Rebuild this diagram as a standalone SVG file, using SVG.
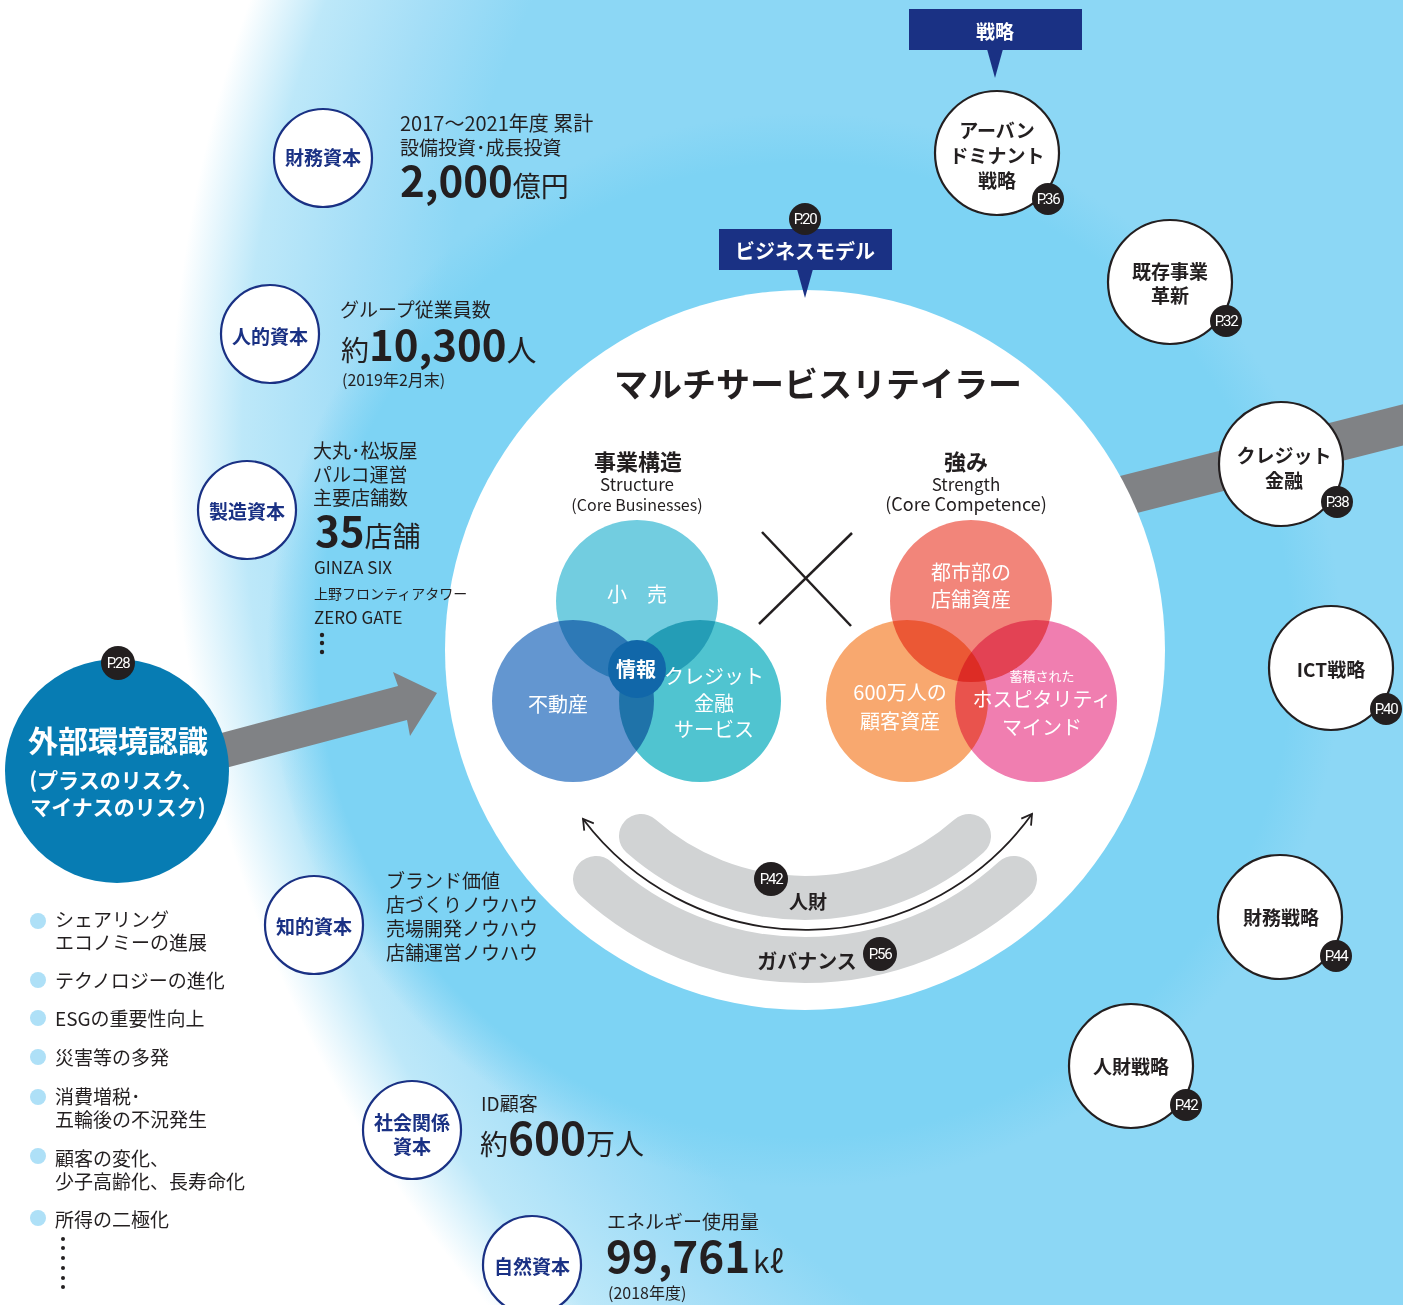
<svg xmlns="http://www.w3.org/2000/svg" width="1403" height="1305" viewBox="0 0 1403 1305">
<defs>
<radialGradient id="bgOuter" gradientUnits="userSpaceOnUse" cx="1480" cy="450" r="1310">
<stop offset="0" stop-color="#8cd7f5"/>
<stop offset="0.80" stop-color="#8cd7f5"/>
<stop offset="0.87" stop-color="#a4def7"/>
<stop offset="0.945" stop-color="#bde8f9"/>
<stop offset="1" stop-color="#ffffff"/>
</radialGradient>
<radialGradient id="bgRing" gradientUnits="userSpaceOnUse" cx="805" cy="650" r="560">
<stop offset="0" stop-color="#7dd3f4"/>
<stop offset="0.87" stop-color="#7dd3f4"/>
<stop offset="0.96" stop-color="#7dd3f4" stop-opacity="0"/>
</radialGradient>
<marker id="chev" markerUnits="userSpaceOnUse" markerWidth="14" markerHeight="14" refX="11" refY="6" orient="auto-start-reverse" viewBox="0 0 14 12">
<path d="M1,0 L11,6 L1,12" fill="none" stroke="#231f20" stroke-width="1.8"/>
</marker>
<style>
text{font-family:"Noto Sans CJK JP","Noto Sans",sans-serif;}
.cap{fill:#fff;stroke:#1a3184;stroke-width:2.2;}
.capt{fill:#1a3184;font-weight:700;font-size:19px;text-anchor:middle;}
.strat{fill:#fff;stroke:#231f20;stroke-width:2.2;}
.st{fill:#231f20;font-weight:700;font-size:19px;text-anchor:middle;}
.badge{fill:#231f20;}
.bt{fill:#fff;font-size:15px;letter-spacing:-1.3px;text-anchor:middle;font-family:"Roboto","Noto Sans",sans-serif;}
.tx{fill:#231f20;font-size:19px;}
.big{fill:#231f20;font-weight:700;font-size:42px;}
.wt{fill:#fff;font-size:20px;text-anchor:middle;}
.vn{mix-blend-mode:multiply;}
.bul{fill:#aee0f7;}
.lt{fill:#231f20;font-size:19px;}
</style>
</defs>

<g id="background">
<rect width="1403" height="1305" fill="#fff"/>
<circle cx="1480" cy="450" r="1310" fill="url(#bgOuter)"/>
<circle cx="805" cy="650" r="560" fill="url(#bgRing)"/>
</g>

<g id="connectors">
<line x1="1040" y1="517" x2="1410" y2="423" stroke="#808285" stroke-width="40"/>
<polygon points="150,788 150,752 398,686 393,672 437,693 410,736 407,720" fill="#808285"/>
</g>

<g id="main-circle">
<circle cx="805" cy="650" r="360" fill="#fff"/>
<text x="818" y="397" font-size="34" font-weight="700" fill="#231f20" text-anchor="middle">マルチサービスリテイラー</text>
</g>

<g id="business-model">
<rect x="719" y="229" width="173" height="41" fill="#1a3184"/>
<polygon points="797,269 813,269 805,298" fill="#1a3184"/>
<text x="805" y="259" font-size="20" font-weight="700" fill="#fff" text-anchor="middle">ビジネスモデル</text>
<circle class="badge" cx="805" cy="219" r="16"/>
<text class="bt" x="805" y="224">P.20</text>
</g>

<g id="structure">
<text x="638" y="470" font-size="22" font-weight="700" fill="#231f20" text-anchor="middle">事業構造</text>
<text x="637" y="491" font-size="17" fill="#231f20" text-anchor="middle">Structure</text>
<text x="637" y="511" font-size="16" fill="#231f20" text-anchor="middle">(Core Businesses)</text>
<circle class="vn" cx="637" cy="601" r="81" fill="#72cde0"/>
<circle class="vn" cx="573" cy="701" r="81" fill="#6396d0"/>
<circle class="vn" cx="700" cy="701" r="81" fill="#50c4d0"/>
<circle cx="637" cy="669" r="29" fill="#1167a9"/>
<text class="wt" x="637" y="602">小　売</text>
<text class="wt" x="558" y="712">不動産</text>
<text class="wt" x="714" y="684">クレジット</text>
<text class="wt" x="714" y="711">金融</text>
<text class="wt" x="714" y="737">サービス</text>
<text class="wt" x="636" y="677" font-weight="700">情報</text>
</g>

<g id="cross">
<line x1="762" y1="532" x2="851" y2="626" stroke="#231f20" stroke-width="2.5"/>
<line x1="852" y1="533" x2="759" y2="624" stroke="#231f20" stroke-width="2.5"/>
</g>

<g id="strength">
<text x="966" y="470" font-size="22" font-weight="700" fill="#231f20" text-anchor="middle">強み</text>
<text x="966" y="491" font-size="17" fill="#231f20" text-anchor="middle">Strength</text>
<text x="966" y="511" font-size="18" fill="#231f20" text-anchor="middle">(Core Competence)</text>
<circle class="vn" cx="971" cy="601" r="81" fill="#f2857a"/>
<circle class="vn" cx="907" cy="701" r="81" fill="#f8a86f"/>
<circle class="vn" cx="1036" cy="701" r="81" fill="#f07eb0"/>
<text class="wt" x="971" y="580">都市部の</text>
<text class="wt" x="971" y="607">店舗資産</text>
<text class="wt" x="900" y="700">600万人の</text>
<text class="wt" x="900" y="729">顧客資産</text>
<text class="wt" x="1042" y="681" style="font-size:13px">蓄積された</text>
<text class="wt" x="1042" y="707">ホスピタリティ</text>
<text class="wt" x="1042" y="735">マインド</text>
</g>

<g id="smile">
<path d="M 641 836 A 248 248 0 0 0 969 836" fill="none" stroke="#d1d3d4" stroke-width="44" stroke-linecap="round"/>
<path d="M 596 879 A 310 310 0 0 0 1014 879" fill="none" stroke="#d1d3d4" stroke-width="46" stroke-linecap="round"/>
<path d="M 583 819 A 279 279 0 0 0 1032 814" fill="none" stroke="#231f20" stroke-width="1.8" marker-start="url(#chev)" marker-end="url(#chev)"/>
</g>

<g id="jinzai">
<circle class="badge" cx="771" cy="879" r="17"/>
<text class="bt" x="771" y="884">P.42</text>
<text x="808" y="909" font-size="19" font-weight="700" fill="#231f20" text-anchor="middle">人財</text>
</g>

<g id="governance">
<text x="807" y="969" font-size="20" font-weight="700" fill="#231f20" text-anchor="middle">ガバナンス</text>
<circle class="badge" cx="880" cy="954" r="17"/>
<text class="bt" x="880" y="959">P.56</text>
</g>

<g id="senryaku">
<rect x="909" y="9" width="173" height="41" fill="#1a3184"/>
<polygon points="987,49 1003,49 995,78" fill="#1a3184"/>
<text x="995" y="39" font-size="19" font-weight="700" fill="#fff" text-anchor="middle">戦略</text>
</g>

<g id="urban">
<circle class="strat" cx="997" cy="153" r="62"/>
<text class="st" x="997" y="138">アーバン</text>
<text class="st" x="997" y="163">ドミナント</text>
<text class="st" x="997" y="188">戦略</text>
<circle class="badge" cx="1048" cy="199" r="16"/>
<text class="bt" x="1048" y="204">P.36</text>
</g>

<g id="kizon">
<circle class="strat" cx="1170" cy="282" r="62"/>
<text class="st" x="1170" y="279">既存事業</text>
<text class="st" x="1170" y="303">革新</text>
<circle class="badge" cx="1226" cy="321" r="16"/>
<text class="bt" x="1226" y="326">P.32</text>
</g>

<g id="credit">
<circle class="strat" cx="1281" cy="464" r="62"/>
<text class="st" x="1284" y="463">クレジット</text>
<text class="st" x="1284" y="488">金融</text>
<circle class="badge" cx="1337" cy="502" r="16"/>
<text class="bt" x="1337" y="507">P.38</text>
</g>

<g id="ict">
<circle class="strat" cx="1331" cy="668" r="62"/>
<text class="st" x="1331" y="677">ICT戦略</text>
<circle class="badge" cx="1386" cy="709" r="16"/>
<text class="bt" x="1386" y="714">P.40</text>
</g>

<g id="zaimu-senryaku">
<circle class="strat" cx="1280" cy="917" r="62"/>
<text class="st" x="1281" y="925">財務戦略</text>
<circle class="badge" cx="1336" cy="956" r="16"/>
<text class="bt" x="1336" y="961">P.44</text>
</g>

<g id="jinzai-senryaku">
<circle class="strat" cx="1131" cy="1066" r="62"/>
<text class="st" x="1131" y="1074">人財戦略</text>
<circle class="badge" cx="1186" cy="1105" r="16"/>
<text class="bt" x="1186" y="1110">P.42</text>
</g>

<g id="zaimu-shihon">
<circle class="cap" cx="323" cy="158" r="49"/>
<text class="capt" x="323" y="165">財務資本</text>
<text class="tx" x="400" y="131" style="font-size:20px">2017〜2021年度 累計</text>
<text class="tx" x="400" y="155">設備投資･成長投資</text>
<text x="400" y="197"><tspan class="big">2,000</tspan><tspan class="tx" style="font-size:28px">億円</tspan></text>
</g>

<g id="jinteki-shihon">
<circle class="cap" cx="270" cy="334" r="49"/>
<text class="capt" x="270" y="344">人的資本</text>
<text class="tx" x="340" y="317">グループ従業員数</text>
<text x="341" y="361"><tspan class="tx" style="font-size:28px">約</tspan><tspan class="big">10,300</tspan><tspan class="tx" style="font-size:30px">人</tspan></text>
<text class="tx" x="342" y="386" style="font-size:16px">(2019年2月末)</text>
</g>

<g id="seizo-shihon">
<circle class="cap" cx="247" cy="510" r="49"/>
<text class="capt" x="247" y="519">製造資本</text>
<text class="tx" x="313" y="458">大丸･松坂屋</text>
<text class="tx" x="313" y="482">パルコ運営</text>
<text class="tx" x="313" y="505">主要店舗数</text>
<text x="315" y="547"><tspan class="big">35</tspan><tspan class="tx" style="font-size:28px">店舗</tspan></text>
<text class="tx" x="314" y="574" style="font-size:17px">GINZA SIX</text>
<text class="tx" x="314" y="599" style="font-size:14px">上野フロンティアタワー</text>
<text class="tx" x="314" y="624" style="font-size:17px">ZERO GATE</text>
<circle cx="322" cy="635" r="2.2" fill="#231f20"/>
<circle cx="322" cy="643" r="2.2" fill="#231f20"/>
<circle cx="322" cy="652" r="2.2" fill="#231f20"/>
</g>

<g id="gaibu">
<circle cx="117" cy="771" r="112" fill="#077cb3"/>
<circle class="badge" cx="118" cy="663" r="17"/>
<text class="bt" x="118" y="668">P.28</text>
<text x="118" y="752" font-size="30" font-weight="700" fill="#fff" text-anchor="middle">外部環境認識</text>
<text x="116" y="788" font-size="21" font-weight="700" fill="#fff" text-anchor="middle">(プラスのリスク、</text>
<text x="118" y="815" font-size="21" font-weight="700" fill="#fff" text-anchor="middle">マイナスのリスク)</text>
</g>

<g id="risk-list">
<circle class="bul" cx="38" cy="921" r="8"/>
<text class="lt" x="55" y="927">シェアリング</text>
<text class="lt" x="55" y="950">エコノミーの進展</text>
<circle class="bul" cx="38" cy="980" r="8"/>
<text class="lt" x="55" y="988">テクノロジーの進化</text>
<circle class="bul" cx="38" cy="1018" r="8"/>
<text class="lt" x="55" y="1026">ESGの重要性向上</text>
<circle class="bul" cx="38" cy="1057" r="8"/>
<text class="lt" x="55" y="1065">災害等の多発</text>
<circle class="bul" cx="38" cy="1097" r="8"/>
<text class="lt" x="55" y="1104">消費増税･</text>
<text class="lt" x="55" y="1127">五輪後の不況発生</text>
<circle class="bul" cx="38" cy="1156" r="8"/>
<text class="lt" x="55" y="1166">顧客の変化、</text>
<text class="lt" x="55" y="1189">少子高齢化、長寿命化</text>
<circle class="bul" cx="38" cy="1218" r="8"/>
<text class="lt" x="55" y="1227">所得の二極化</text>
<circle cx="63" cy="1239" r="2" fill="#231f20"/>
<circle cx="63" cy="1248" r="2" fill="#231f20"/>
<circle cx="63" cy="1258" r="2" fill="#231f20"/>
<circle cx="63" cy="1268" r="2" fill="#231f20"/>
<circle cx="63" cy="1278" r="2" fill="#231f20"/>
<circle cx="63" cy="1287" r="2" fill="#231f20"/>
</g>

<g id="chiteki-shihon">
<circle class="cap" cx="314" cy="925" r="49"/>
<text class="capt" x="314" y="934">知的資本</text>
<text class="tx" x="386" y="888">ブランド価値</text>
<text class="tx" x="386" y="912">店づくりノウハウ</text>
<text class="tx" x="386" y="936">売場開発ノウハウ</text>
<text class="tx" x="386" y="960">店舗運営ノウハウ</text>
</g>

<g id="shakai-shihon">
<circle class="cap" cx="412" cy="1130" r="49"/>
<text class="capt" x="412" y="1130">社会関係</text>
<text class="capt" x="412" y="1154">資本</text>
<text class="tx" x="481" y="1111">ID顧客</text>
<text x="480" y="1155"><tspan class="tx" style="font-size:28px">約</tspan><tspan class="big" style="font-size:44px">600</tspan><tspan class="tx" style="font-size:29px">万人</tspan></text>
</g>

<g id="shizen-shihon">
<circle class="cap" cx="532" cy="1265" r="49"/>
<text class="capt" x="532" y="1274">自然資本</text>
<text class="tx" x="607" y="1229">エネルギー使用量</text>
<text x="606" y="1273"><tspan class="big" style="font-size:44px">99,761</tspan><tspan class="tx" style="font-size:30px" dx="3">kℓ</tspan></text>
<text class="tx" x="608" y="1299" style="font-size:16px">(2018年度)</text>
</g>
</svg>
